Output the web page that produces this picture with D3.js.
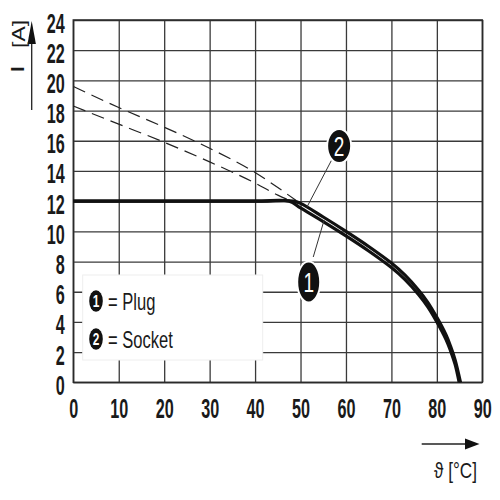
<!DOCTYPE html>
<html>
<head>
<meta charset="utf-8">
<script src="https://cdn.jsdelivr.net/npm/d3@7"></script>
<style>
  body { margin: 0; background: #fff; }
  text { font-family: "Liberation Sans", Arial, sans-serif; fill: #1a1a1a; }
</style>
</head>
<body>
<script>
// Axis ticks
const xTicks = [0, 10, 20, 30, 40, 50, 60, 70, 80, 90];
const yTicks = [0, 2, 4, 6, 8, 10, 12, 14, 16, 18, 20, 22, 24];

// Derating curves, [temperature °C, current A]
const plugCurve = [[0, 12], [40, 12], [47.5, 12], [50, 11.55], [55, 10.65], [60, 9.7], [65, 8.7], [70, 7.6],
  [73, 6.8], [76, 5.8], [78, 5.0], [80, 4.0], [82, 2.85], [83, 2.1], [84, 1.2], [84.9, 0]];
const socketCurve = [[0, 12], [40, 12], [48.5, 12], [50, 11.85], [55, 10.95], [60, 10.0], [65, 9.0], [70, 7.9],
  [73, 7.1], [76, 6.1], [78, 5.3], [80, 4.3], [82, 3.15], [83, 2.4], [84, 1.5], [85.2, 0]];

// Dashed curves (upper / lower)
const dashUpper = [[0, 19.6], [10, 18.2], [20, 16.9], [30, 15.5], [40, 13.9], [45, 12.9], [49, 12.05]];
const dashLower = [[0, 18.3], [10, 17.1], [20, 15.9], [30, 14.6], [40, 13.2], [45, 12.4], [48, 12.0]];

// Callouts: label position and leader end, in data units
const callouts = [
  { n: "2", at: [58.5, 15.65], rx: 12, ry: 17, from: [56.8, 14.7], to: [51.4, 11.6] },
  { n: "1", at: [51.8, 6.65], rx: 11.5, ry: 20.5, from: [52.8, 8.3], to: [55.2, 10.75] }
];

const legendItems = [
  { n: "1", label: "Plug" },
  { n: "2", label: "Socket" }
];

const width = 500, height = 500;

const svg = d3.select("body").append("svg")
  .attr("width", width)
  .attr("height", height);

const x = d3.scaleLinear().domain([0, 90]).range([73.3, 482.3]);
const y = d3.scaleLinear().domain([0, 24]).range([382.3, 20]);
const plotH = y(0) - y(24), plotW = x(90) - x(0);

const condensed = 0.6;

// Vertical grid + x tick labels
const gx = svg.append("g")
  .attr("transform", `translate(0,${y(0)})`)
  .call(d3.axisBottom(x).tickValues(xTicks).tickSize(-plotH).tickPadding(0));
gx.select(".domain").remove();
gx.selectAll("line").attr("stroke", "#3a3a3a").attr("stroke-width", 1.3);
gx.selectAll("text")
  .attr("y", 36).attr("dy", null)
  .attr("transform", `scale(${condensed},1)`)
  .style("font-size", "27px").style("font-weight", "bold")
  .attr("fill", "#1a1a1a");

// Horizontal grid + y tick labels
const gy = svg.append("g")
  .attr("transform", `translate(${x(0)},0)`)
  .call(d3.axisLeft(y).tickValues(yTicks).tickSize(-plotW).tickPadding(0));
gy.select(".domain").remove();
gy.selectAll("line").attr("stroke", "#3a3a3a").attr("stroke-width", 1.3);
gy.selectAll("text")
  .attr("x", -8.5 / condensed).attr("y", 12).attr("dy", null)
  .attr("transform", `scale(${condensed},1)`)
  .style("font-size", "27px").style("font-weight", "bold")
  .attr("fill", "#1a1a1a");

// Frame
svg.append("rect")
  .attr("x", x(0)).attr("y", y(24))
  .attr("width", plotW).attr("height", plotH)
  .attr("fill", "none").attr("stroke", "#2a2a2a").attr("stroke-width", 1.5);

const line = d3.line()
  .x(d => x(d[0]))
  .y(d => y(d[1]))
  .curve(d3.curveMonotoneX);

const smoothLine = d3.line()
  .x(d => x(d[0]))
  .y(d => y(d[1]))
  .curve(d3.curveCatmullRom.alpha(0.5));

// Dashed lines
[dashUpper, dashLower].forEach(data => {
  svg.append("path")
    .attr("d", line(data))
    .attr("fill", "none")
    .attr("stroke", "#222")
    .attr("stroke-width", 1.2)
    .attr("stroke-dasharray", "13,7");
});

// Legend box
const legend = svg.append("g");
legend.append("rect")
  .attr("x", 82.7).attr("y", 275)
  .attr("width", 180).attr("height", 85)
  .attr("fill", "#fff").attr("stroke", "#eee").attr("stroke-width", 1);

legendItems.forEach((d, i) => {
  const cy = 301 + i * 38;
  legend.append("ellipse")
    .attr("cx", 96).attr("cy", cy).attr("rx", 6.8).attr("ry", 10.8)
    .attr("fill", "#111");
  legend.append("text")
    .attr("transform", `translate(96,${cy + 6}) scale(0.7,1)`)
    .attr("text-anchor", "middle")
    .style("font-size", "17px").style("font-weight", "bold")
    .style("fill", "#fff")
    .text(d.n);
  legend.append("text")
    .attr("transform", `translate(108,${cy + 9}) scale(0.72,1)`)
    .style("font-size", "23px")
    .text("= " + d.label);
});

// Solid derating curves
[plugCurve, socketCurve].forEach(data => {
  svg.append("path")
    .attr("d", smoothLine(data))
    .attr("fill", "none")
    .attr("stroke", "#111")
    .attr("stroke-width", 3.2)
    .attr("stroke-linejoin", "round");
});

// Callouts
callouts.forEach(c => {
  svg.append("line")
    .attr("x1", x(c.from[0])).attr("y1", y(c.from[1]))
    .attr("x2", x(c.to[0])).attr("y2", y(c.to[1]))
    .attr("stroke", "#333").attr("stroke-width", 1);
  svg.append("ellipse")
    .attr("cx", x(c.at[0])).attr("cy", y(c.at[1]))
    .attr("rx", c.rx).attr("ry", c.ry)
    .attr("fill", "#111").attr("stroke", "#fff").attr("stroke-width", 2);
  svg.append("text")
    .attr("transform", `translate(${x(c.at[0])},${y(c.at[1]) + 10}) scale(0.68,1)`)
    .attr("text-anchor", "middle")
    .style("font-size", "28px")
    .style("fill", "#fff")
    .text(c.n);
});

// Y axis title with arrow
svg.append("line")
  .attr("x1", 31.7).attr("y1", 110).attr("x2", 31.7).attr("y2", 40)
  .attr("stroke", "#222").attr("stroke-width", 1.3);
svg.append("path")
  .attr("d", "M31.7,21 L27.5,44 L35.9,44 Z")
  .attr("fill", "#111");
svg.append("text")
  .attr("transform", "translate(23.5,69) rotate(-90)")
  .attr("text-anchor", "middle")
  .style("font-size", "19px").style("font-weight", "bold")
  .text("I");
svg.append("text")
  .attr("transform", "translate(24.5,34) rotate(-90)")
  .attr("text-anchor", "middle")
  .attr("textLength", 28).attr("lengthAdjust", "spacingAndGlyphs")
  .style("font-size", "19px")
  .text("[A]");

// X axis title with arrow
svg.append("line")
  .attr("x1", 421.7).attr("y1", 444).attr("x2", 466).attr("y2", 444)
  .attr("stroke", "#222").attr("stroke-width", 1.3);
svg.append("path")
  .attr("d", "M479.5,444 L465,438.5 L465,449.5 Z")
  .attr("fill", "#111");
svg.append("text")
  .attr("transform", "translate(477,478) scale(0.78,1)")
  .attr("text-anchor", "end")
  .style("font-size", "22px")
  .text("ϑ [°C]");
</script>
</body>
</html>
